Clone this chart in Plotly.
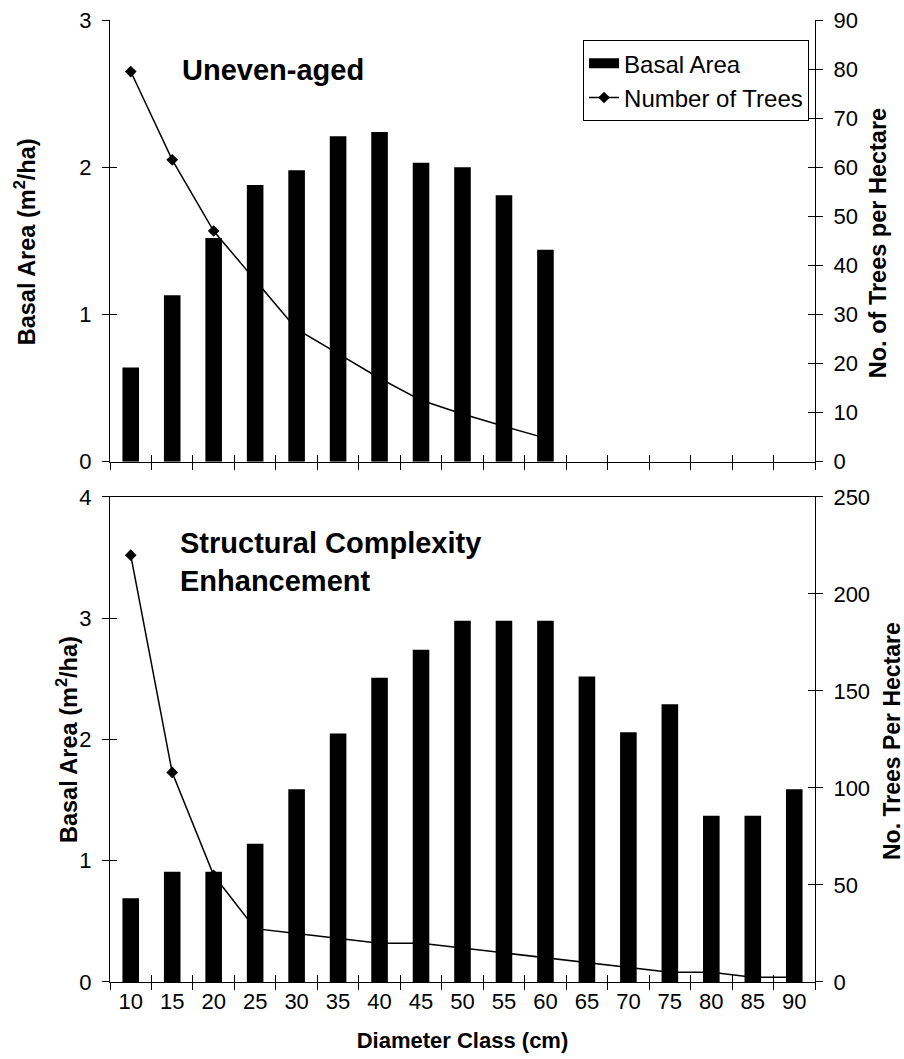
import plotly.graph_objects as go

# ---- data ----
diam_classes = ["10", "15", "20", "25", "30", "35", "40", "45", "50",
                "55", "60", "65", "70", "75", "80", "85", "90"]

uneven_basal = [0.64, 1.13, 1.52, 1.88, 1.98, 2.21, 2.24, 2.03, 2.00, 1.81, 1.44,
                None, None, None, None, None, None]
uneven_trees = [79.5, 61.5, 47, 37, 27, 22, 17, 12.5, 9.7, 7.2, 4.8,
                None, None, None, None, None, None]

sce_basal = [0.69, 0.91, 0.91, 1.14, 1.59, 2.05, 2.51, 2.74, 2.98, 2.98, 2.98,
             2.52, 2.06, 2.29, 1.37, 1.37, 1.59]
sce_trees = [220, 108, 55, 27.5, 25, 22.5, 20, 20, 17.5, 15, 12.5,
             10, 7.5, 5, 5, 2.5, 2.5]

top_left_ticks = [0, 1, 2, 3]
top_right_ticks = [0, 10, 20, 30, 40, 50, 60, 70, 80, 90]
bot_left_ticks = [0, 1, 2, 3, 4]
bot_right_ticks = [0, 50, 100, 150, 200, 250]

FONT = "Liberation Sans, Arial, sans-serif"
BLACK = "#000000"

fig = go.Figure()

# legend-only entry with a wide black swatch for the bars
fig.add_trace(go.Scatter(x=[None], y=[None], name="Basal Area", mode="lines",
                         line=dict(color=BLACK, width=12),
                         legendgroup="a", xaxis="x", yaxis="y"))
# top panel
fig.add_trace(go.Bar(x=diam_classes, y=uneven_basal, name="Basal Area",
                     marker=dict(color=BLACK, line=dict(width=0)),
                     xaxis="x", yaxis="y", showlegend=False))
fig.add_trace(go.Scatter(x=diam_classes, y=uneven_trees, name="Number of Trees",
                         mode="lines+markers", legendgroup="b",
                         line=dict(color=BLACK, width=1.5),
                         marker=dict(symbol="diamond", size=9, color=BLACK),
                         xaxis="x", yaxis="y2"))
# bottom panel
fig.add_trace(go.Bar(x=diam_classes, y=sce_basal, name="Basal Area",
                     marker=dict(color=BLACK, line=dict(width=0)),
                     xaxis="x2", yaxis="y3", showlegend=False))
fig.add_trace(go.Scatter(x=diam_classes, y=sce_trees, name="Number of Trees",
                         mode="lines+markers",
                         line=dict(color=BLACK, width=1.5),
                         marker=dict(symbol="diamond", size=9, color=BLACK),
                         xaxis="x2", yaxis="y4", showlegend=False))

# invisible helper traces to carry inside (crossing) ticks
for xa, ya in [("x3", "y5"), ("x3", "y6"), ("x4", "y7"), ("x4", "y8")]:
    fig.add_trace(go.Scatter(x=diam_classes, y=[0] * len(diam_classes),
                             mode="markers", marker=dict(opacity=0),
                             hoverinfo="skip", showlegend=False,
                             xaxis=xa, yaxis=ya))

TOP_DOM = [0.5409, 1.0]
BOT_DOM = [0.0, 0.5042]
XR = [-0.5, 16.5]
tickfont = dict(family=FONT, size=22, color=BLACK)

def xcat(**kw):
    d = dict(type="category", categoryorder="array", categoryarray=diam_classes,
             range=XR, tickson="boundaries", ticklen=7, tickcolor=BLACK,
             tickwidth=1, showgrid=False, zeroline=False, tickfont=tickfont,
             fixedrange=True, automargin=False)
    d.update(kw)
    return d

def ynum(rng, tv, **kw):
    d = dict(range=rng, tickvals=tv, ticklen=7, tickcolor=BLACK, tickwidth=1,
             showgrid=False, zeroline=False, tickfont=tickfont,
             ticklabelstandoff=6, fixedrange=True, automargin=False)
    d.update(kw)
    return d

fig.update_layout(
    width=904, height=1059,
    margin=dict(l=110, r=89, t=20, b=77, autoexpand=False),
    paper_bgcolor="white", plot_bgcolor="white",
    font=dict(family=FONT, size=22, color=BLACK),
    bargap=0.6,
    showlegend=True,
    legend=dict(x=0.671, y=0.979, xanchor="left", yanchor="top",
                bgcolor="white", bordercolor=BLACK, borderwidth=1,
                font=dict(family=FONT, size=24, color=BLACK),
                traceorder="grouped", tracegroupgap=0, itemwidth=30),
    # top panel axes
    xaxis=xcat(domain=[0, 1], anchor="y", showline=True, linecolor=BLACK,
               linewidth=1, ticks="outside", showticklabels=False),
    xaxis3=xcat(overlaying="x", anchor="y", ticks="inside", showline=False,
                showticklabels=False),
    xaxis5=xcat(overlaying="x", anchor="y", side="top", ticks="",
                showline=True, linecolor="#c4c4c4", linewidth=1,
                showticklabels=False),
    yaxis=ynum([0, 3], top_left_ticks, domain=TOP_DOM, anchor="x",
               side="left", showline=True, linecolor=BLACK, ticks="outside"),
    yaxis2=ynum([0, 90], top_right_ticks, overlaying="y", anchor="x",
                side="right", showline=True, linecolor=BLACK, ticks="outside"),
    yaxis5=ynum([0, 3], top_left_ticks, overlaying="y", anchor="x3",
                side="left", ticks="inside", showticklabels=False),
    yaxis6=ynum([0, 90], top_right_ticks, overlaying="y", anchor="x3",
                side="right", ticks="inside", showticklabels=False),
    # bottom panel axes
    xaxis2=xcat(domain=[0, 1], anchor="y3", showline=True, linecolor=BLACK,
                linewidth=1, mirror=True, ticks="outside",
                title=dict(text="<b>Diameter Class (cm)</b>",
                           font=dict(family=FONT, size=22, color=BLACK),
                           standoff=19)),
    xaxis4=xcat(overlaying="x2", anchor="y3", ticks="inside", showline=False,
                showticklabels=False),
    yaxis3=ynum([0, 4], bot_left_ticks, domain=BOT_DOM, anchor="x2",
                side="left", showline=True, linecolor=BLACK, ticks="outside"),
    yaxis4=ynum([0, 250], bot_right_ticks, overlaying="y3", anchor="x2",
                side="right", showline=True, linecolor=BLACK, ticks="outside"),
    yaxis7=ynum([0, 4], bot_left_ticks, overlaying="y3", anchor="x4",
                side="left", ticks="inside", showticklabels=False),
    yaxis8=ynum([0, 250], bot_right_ticks, overlaying="y3", anchor="x4",
                side="right", ticks="inside", showticklabels=False),
)

def ann(text, x, y, size, angle=0, xanchor="center", align="center"):
    fig.add_annotation(text=text, xref="paper", yref="paper", x=x, y=y,
                       xanchor=xanchor, yanchor="middle", align=align,
                       textangle=angle, showarrow=False,
                       font=dict(family=FONT, size=size, color=BLACK))

ann("<b>Basal Area (m<sup>2</sup>/ha)</b>", -0.1206, 0.770, 23.5, angle=-90)
ann("<b>Basal Area (m<sup>2</sup>/ha)</b>", -0.0610, 0.2526, 23.5, angle=-90)
ann("<b>No. of Trees per Hectare</b>", 1.0894, 0.768, 23.5, angle=-90)
ann("<b>No. Trees Per Hectare</b>", 1.1092, 0.2505, 23, angle=-90)
ann("<b>Uneven-aged</b>", 0.0993, 0.948, 29, xanchor="left", align="left")
ann("<b>Structural Complexity<br>Enhancement</b>", 0.0965, 0.4366, 29,
    xanchor="left", align="left")

fig.write_html("out.html",
               config={"displayModeBar": False},
               post_script="document.body.style.margin='0';"
                           "document.body.style.overflow='hidden';")
